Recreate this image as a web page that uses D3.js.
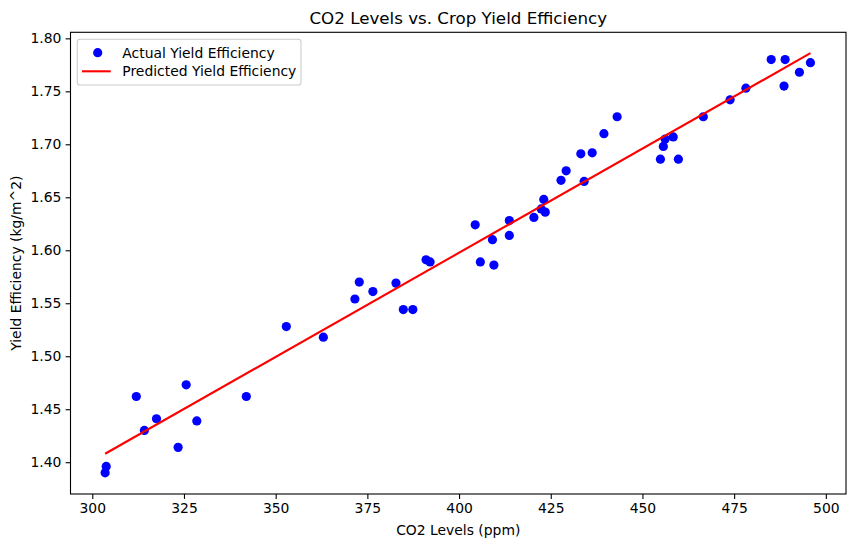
<!DOCTYPE html>
<html>
<head>
<meta charset="utf-8">
<script src="https://cdn.jsdelivr.net/npm/d3@7"></script>
<style>
  html, body { margin: 0; padding: 0; background: #fff; }
  svg { display: block; font-family: "DejaVu Sans", sans-serif; }
</style>
</head>
<body>
<svg id="chart" width="855" height="547"></svg>
<script>
// ---- Data ----
const co2 = [303.5, 303.8, 312.0, 314.2, 317.5, 323.4, 325.6, 328.5, 342.0, 352.9,
             363.0, 371.6, 372.8, 376.5, 382.8, 384.8, 387.4, 391.0, 392.1, 404.4,
             405.8, 409.1, 409.5, 413.7, 413.7, 420.4, 423.1, 422.4, 423.5, 427.8,
             429.2, 434.1, 433.2, 436.3, 439.5, 443.1, 454.9, 455.7, 456.2, 458.4,
             459.8, 466.6, 473.9, 478.2, 485.1, 488.9, 488.6, 492.8, 495.8];
const yieldEff = [1.390, 1.396, 1.462, 1.430, 1.441, 1.414, 1.473, 1.439, 1.462, 1.528,
                  1.518, 1.554, 1.570, 1.561, 1.569, 1.544, 1.544, 1.591, 1.589, 1.624,
                  1.589, 1.610, 1.586, 1.628, 1.614, 1.631, 1.648, 1.639, 1.636, 1.666,
                  1.675, 1.665, 1.691, 1.692, 1.710, 1.726, 1.686, 1.698, 1.705, 1.707,
                  1.686, 1.726, 1.742, 1.753, 1.780, 1.780, 1.755, 1.768, 1.777];
const predX = [303.5, 495.8];
const predY = [1.408, 1.786];
const xTicks = [300, 325, 350, 375, 400, 425, 450, 475, 500];
const yTicks = [1.40, 1.45, 1.50, 1.55, 1.60, 1.65, 1.70, 1.75, 1.80];
const titleText = "CO2 Levels vs. Crop Yield Efficiency";
const xLabel = "CO2 Levels (ppm)";
const yLabel = "Yield Efficiency (kg/m^2)";
const legendLabels = ["Actual Yield Efficiency", "Predicted Yield Efficiency"];

// ---- Layout ----
const L = 70.5, R = 846, T = 32.3, B = 494;
const svg = d3.select("#chart");

const x = d3.scaleLinear().domain([294.06, 505.5]).range([L, R]);
const y = d3.scaleLinear().domain([1.370, 1.8057]).range([B, T]);

// points
svg.append("g").selectAll("circle")
  .data(co2.map((c, i) => [c, yieldEff[i]]))
  .join("circle")
  .attr("cx", d => x(d[0]))
  .attr("cy", d => y(d[1]))
  .attr("r", 4.6)
  .attr("fill", "#0000ff");

// predicted line
const line = d3.line().x(d => x(d[0])).y(d => y(d[1]));
svg.append("path")
  .datum(predX.map((v, i) => [v, predY[i]]))
  .attr("d", line)
  .attr("fill", "none")
  .attr("stroke", "#ff0000")
  .attr("stroke-width", 2.1);

// axes
const xAxis = d3.axisBottom(x).tickValues(xTicks).tickSize(4.9).tickPadding(4.2).tickFormat(d3.format("d"));
const yAxis = d3.axisLeft(y).tickValues(yTicks).tickSize(4.9).tickPadding(4.2).tickFormat(d3.format(".2f"));

const gx = svg.append("g").attr("transform", `translate(0,${B})`).call(xAxis);
const gy = svg.append("g").attr("transform", `translate(${L},0)`).call(yAxis);
[gx, gy].forEach(g => {
  g.select(".domain").remove();
  g.selectAll(".tick line").attr("stroke", "#000").attr("stroke-width", 1.1);
  g.selectAll(".tick text").attr("fill", "#000").style("font-size", "13.9px").style("font-family", "DejaVu Sans, sans-serif");
});

// frame
svg.append("rect")
  .attr("x", L).attr("y", T).attr("width", R - L).attr("height", B - T)
  .attr("fill", "none").attr("stroke", "#000").attr("stroke-width", 1.1);

// title & labels
svg.append("text").attr("x", (L + R) / 2).attr("y", 24)
  .attr("text-anchor", "middle").style("font-size", "16.7px").text(titleText);
svg.append("text").attr("x", (L + R) / 2).attr("y", 535)
  .attr("text-anchor", "middle").style("font-size", "13.9px").text(xLabel);
svg.append("text").attr("transform", `translate(21,${(T + B) / 2}) rotate(-90)`)
  .attr("text-anchor", "middle").style("font-size", "13.9px").text(yLabel);

// legend
const lg = svg.append("g");
lg.append("rect").attr("x", 77.3).attr("y", 39.3).attr("width", 223.7).attr("height", 45.7)
  .attr("rx", 2.8).attr("fill", "#fff").attr("fill-opacity", 0.8)
  .attr("stroke", "#cccccc").attr("stroke-width", 1.1);
lg.append("circle").attr("cx", 97.7).attr("cy", 52.7).attr("r", 4.6).attr("fill", "#0000ff");
lg.append("line").attr("x1", 82).attr("x2", 110.7).attr("y1", 71.3).attr("y2", 71.3)
  .attr("stroke", "#ff0000").attr("stroke-width", 2.1);
lg.selectAll("text.lt").data(legendLabels).join("text").attr("class", "lt")
  .attr("x", 122.3).attr("y", (d, i) => 52.7 + i * 18.6)
  .attr("dy", "0.36em").style("font-size", "13.9px").text(d => d);
</script>
</body>
</html>
